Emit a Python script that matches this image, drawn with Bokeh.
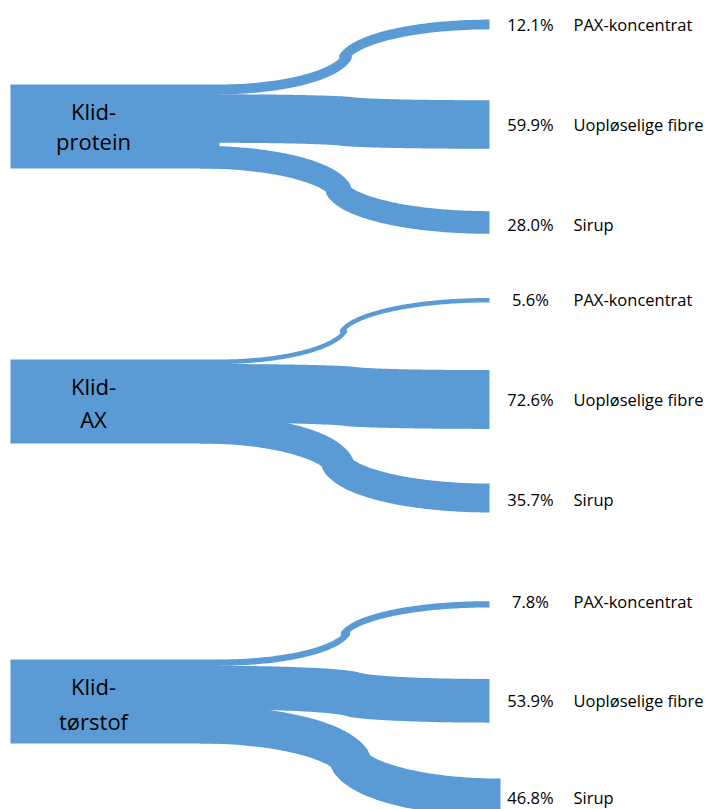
import numpy as np
from bokeh.plotting import figure
from bokeh.models import ColumnDataSource, Range1d
from bokeh.core.properties import value
from bokeh.embed import file_html
from bokeh.resources import INLINE

# Share of each bran component recovered in each product (%)
source_line1 = ["Klid-", "Klid-", "Klid-"]
source_line2 = ["protein", "AX", "tørstof"]
products = ["PAX-koncentrat", "Uopløselige fibre", "Sirup"]
pax = [12.1, 5.6, 7.8]
fibre = [59.9, 72.6, 53.9]
sirup = [28.0, 35.7, 46.8]

# ---- layout (pixels; 1 data unit = 1 screen pixel) ----
W, H = 708, 809
BLUE = "#5B9BD5"
SCALE = 0.81                      # band thickness per percent
BLOCK_LEFT, BLOCK_RIGHT, BLOCK_H = 10, 218, 84
block_top = [84, 359, 659]
start_x = [218, 218, 200]         # where PAX / fibre / sirup bands begin to bend
end_x = [[489, 489, 489], [489, 489, 489], [489, 489, 500]]
end_offset = [[-60, 40, 138], [-59.3, 40, 138.5], [-55.2, 41.3, 138]]
junction_x = [[345, 347, 338], [343, 350, 337], [345, 352, 350]]
label_offset = [[-60, 40, 140], [-60, 40, 140], [-58.5, 41, 137.5]]
name_line1_offset = [26, 26, 26.5]
name_line2_offset = [56, 59.5, 61]
PCT_X, NAME_X = 530, 573
FONT = "Open Sans"


def two_arc(x0, y0, xm, x1, y1, k=0.0, theta=np.radians(80), n=80):
    """Two elliptical arcs: flat at both ends, steep where they meet."""
    ym = (y0 + y1) / 2
    t = np.linspace(0, theta, n)
    f = (1 - np.cos(t)) / (1 - np.cos(theta))
    a1 = (xm + k - x0) / np.sin(theta)
    seg1 = (x0 + a1 * np.sin(t), y0 + (ym - y0) * f)
    a2 = (x1 - (xm - k)) / np.sin(theta)
    seg2 = ((x1 - a2 * np.sin(t))[::-1], (y1 + (ym - y1) * f)[::-1])
    return seg1, seg2


p = figure(width=W, height=H, x_range=Range1d(0, W), y_range=Range1d(H, 0),
           x_axis_type=None, y_axis_type=None, output_backend="svg",
           toolbar_location=None, min_border=0)
p.grid.visible = False
p.outline_line_color = None
p.background_fill_color = "white"

stroke_xs, stroke_ys, stroke_w = [], [], []
joint_x, joint_y, joint_r = [], [], []
band_xs, band_ys = [], []
pct_x, pct_y, pct_text = [], [], []
name_x, name_y, name_text = [], [], []

for i in range(3):
    top = block_top[i]
    bottom = top + BLOCK_H
    shares = [pax[i], fibre[i], sirup[i]]
    widths = [s * SCALE for s in shares]
    starts = [top + widths[0] / 2,
              top + widths[0] + widths[1] / 2,
              bottom - widths[2] / 2]
    for j in range(3):
        y0 = starts[j]
        y1 = top + end_offset[i][j]
        x0 = start_x[j]
        x1 = end_x[i][j]
        xm = junction_x[i][j]
        w = widths[j]
        if j == 1:
            # broad middle band: edges shifted vertically with a small step
            (ax1, ay1), (ax2, ay2) = two_arc(x0, y0 - w / 2, xm + 6, x1, y1 - w / 2)
            (bx1, by1), (bx2, by2) = two_arc(x0, y0 + w / 2, xm - 6, x1, y1 + w / 2)
            xs = np.concatenate([ax1, ax2[1:], bx2[::-1], bx1[::-1][1:]])
            ys = np.concatenate([ay1, ay2[1:], by2[::-1], by1[::-1][1:]])
            band_xs.append(list(xs))
            band_ys.append(list(ys))
        else:
            segs = two_arc(x0, y0, xm, x1, y1, k=1.5)
            for sx, sy in segs:
                stroke_xs.append(list(sx))
                stroke_ys.append(list(sy))
                stroke_w.append(w)
            # rounded ends where the two arcs meet
            for px_, py_ in ((segs[0][0][-1], segs[0][1][-1]), (segs[1][0][0], segs[1][1][0])):
                joint_x.append(px_)
                joint_y.append(py_)
                joint_r.append(w / 2)
        ly = top + label_offset[i][j]
        pct_x.append(PCT_X)
        pct_y.append(ly)
        pct_text.append(f"{shares[j]:.1f}%")
        name_x.append(NAME_X)
        name_y.append(ly)
        name_text.append(products[j])

p.patches(xs=band_xs, ys=band_ys, fill_color=BLUE, line_color=None)
p.multi_line(xs="xs", ys="ys", line_width="w", line_color=BLUE,
             line_cap="butt", line_join="round",
             source=ColumnDataSource(dict(xs=stroke_xs, ys=stroke_ys, w=stroke_w)))
p.circle(x=joint_x, y=joint_y, radius=joint_r, fill_color=BLUE, line_color=None)

# source blocks, drawn on top of the band roots
tops = np.array(block_top, dtype=float)
p.quad(left=BLOCK_LEFT, right=BLOCK_RIGHT + 1, top=tops, bottom=tops + BLOCK_H,
       fill_color=BLUE, line_color=None)

# source names inside blocks
p.text(x=[93] * 3, y=[t + o for t, o in zip(block_top, name_line1_offset)],
       text=source_line1, text_align="center", text_baseline="middle",
       text_font=value(FONT), text_font_size="22px", text_color="black")
p.text(x=[93] * 3, y=[t + o for t, o in zip(block_top, name_line2_offset)],
       text=source_line2, text_align="center", text_baseline="middle",
       text_font=value(FONT), text_font_size="22px", text_color="black")

# product shares and names
p.text(x=pct_x, y=pct_y, text=pct_text, text_align="center",
       text_baseline="middle", text_font=value(FONT),
       text_font_size="16.5px", text_color="black")
p.text(x=name_x, y=name_y, text=name_text, text_align="left",
       text_baseline="middle", text_font=value(FONT),
       text_font_size="16.5px", text_color="black")

open("out.html", "w").write(file_html(p, INLINE))
